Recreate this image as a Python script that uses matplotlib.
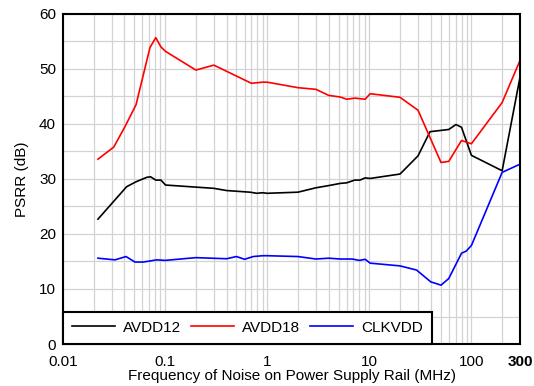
import matplotlib
matplotlib.use("Agg")
import matplotlib.pyplot as plt
from matplotlib.ticker import FixedLocator, NullFormatter

plt.rcParams['font.family'] = ['Liberation Sans', 'DejaVu Sans']

# ==================== DATA ====================
freq_avdd12 = [0.022, 0.042, 0.052, 0.066, 0.072, 0.081, 0.091, 0.101, 0.3, 0.4, 0.68, 0.79,
               0.9, 1.0, 2.0, 3.0, 4.0, 5.2, 6.0, 7.2, 8.1, 9.1, 10.2, 20, 30, 39.3, 60,
               70.6, 80, 100, 200, 300]
psrr_avdd12 = [22.7, 28.6, 29.5, 30.3, 30.4, 29.8, 29.8, 28.9, 28.3, 27.9, 27.6, 27.4,
               27.5, 27.4, 27.6, 28.4, 28.8, 29.2, 29.3, 29.8, 29.8, 30.2, 30.1, 30.9, 34.2, 38.6, 39.0,
               39.9, 39.4, 34.3, 31.5, 48.6]

freq_avdd18 = [0.022, 0.0314, 0.0404, 0.0519, 0.0711, 0.081, 0.091, 0.101, 0.2, 0.3, 0.7, 0.9,
               1.0, 2.0, 3.0, 4.0, 5.2, 6.0, 7.2, 9.1, 10.2, 20, 30, 50.4, 60, 80, 100, 200, 300]
psrr_avdd18 = [33.6, 35.8, 39.5, 43.5, 53.9, 55.7, 54.0, 53.2, 49.8, 50.7, 47.4, 47.6,
               47.6, 46.6, 46.3, 45.2, 44.9, 44.5, 44.7, 44.5, 45.5, 44.85, 42.5, 33.0, 33.2, 37.0, 36.4, 43.9, 51.6]

freq_clkvdd = [0.022, 0.0323, 0.0414, 0.0507, 0.0612, 0.083, 0.1, 0.2, 0.4, 0.5, 0.6, 0.73,
               0.9, 1.0, 2.0, 3.0, 4.0, 5.2, 6.8, 8.0, 9.1, 10.2, 20, 29, 40, 50.4, 60,
               80, 89, 100, 200, 300]
psrr_clkvdd = [15.6, 15.3, 15.9, 14.9, 14.9, 15.3, 15.2, 15.7, 15.5, 15.9, 15.4, 15.9,
               16.05, 16.05, 15.9, 15.45, 15.6, 15.45, 15.45, 15.2, 15.4, 14.7, 14.2, 13.45, 11.3, 10.7, 11.9,
               16.5, 16.9, 17.9, 31.2, 32.7]

x_ticks = [0.01, 0.1, 1, 10, 100, 300]
x_tick_labels = ['0.01', '0.1', '1', '10', '100', '300']

# ==================== PLOT ====================
fig = plt.figure(figsize=(5.34, 3.86), dpi=100)
ax = fig.add_axes([0.118, 0.1088, 0.856, 0.855])

ax.plot(freq_avdd12, psrr_avdd12, color='black', lw=1.2, label='AVDD12')
ax.plot(freq_avdd18, psrr_avdd18, color='#ff0000', lw=1.2, label='AVDD18')
ax.plot(freq_clkvdd, psrr_clkvdd, color='#0000ff', lw=1.2, label='CLKVDD')

ax.set_xscale('log')
ax.set_xlim(0.01, 300)
ax.set_ylim(0, 60)

# grid: every decade plus minor 2..9, y every 5
minor_x = [m * 10.0 ** e for e in range(-2, 3) for m in range(2, 10) if m * 10.0 ** e < 300]
ax.xaxis.set_minor_locator(FixedLocator(minor_x))
ax.xaxis.set_minor_formatter(NullFormatter())
ax.set_xticks(x_ticks)
ax.set_xticklabels(x_tick_labels)
ax.set_yticks(range(0, 61, 10))
ax.set_yticks(range(5, 60, 10), minor=True)
ax.grid(True, which='both', color='#d3d3d3', lw=0.9)
ax.set_axisbelow(True)

ax.tick_params(which='both', length=0)
ax.tick_params(axis='x', pad=8, labelsize=11)
ax.tick_params(axis='y', pad=5, labelsize=11)
ax.get_xticklabels()[-1].set_fontweight('bold')

for s in ax.spines.values():
    s.set_linewidth(1.5)

ax.set_xlabel('Frequency of Noise on Power Supply Rail (MHz)', fontsize=11, labelpad=0)
ax.set_ylabel('PSRR (dB)', fontsize=11, labelpad=7)

leg = ax.legend(loc='lower left', bbox_to_anchor=(0, 0), borderaxespad=0, ncol=3,
                fontsize=11, handlelength=2.8, handletextpad=0.55, columnspacing=0.63,
                borderpad=0.6, fancybox=False, framealpha=1, edgecolor='black')
leg.get_frame().set_linewidth(1.5)

fig.savefig('out.png', dpi=100)
